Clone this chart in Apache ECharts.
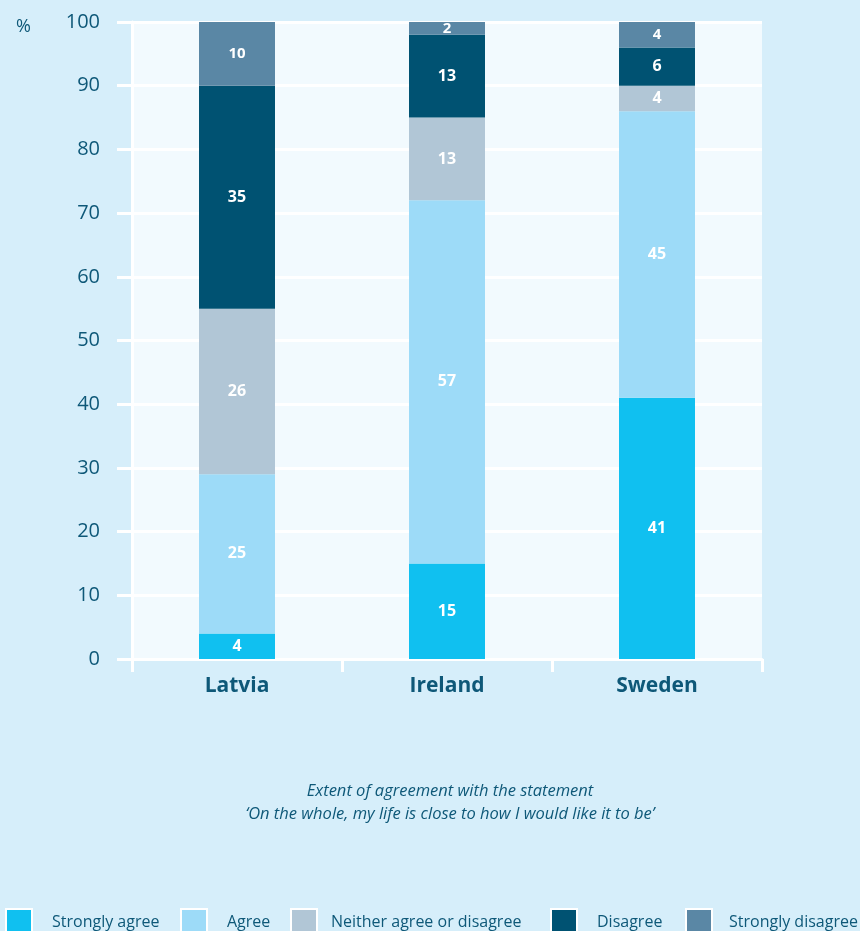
<!DOCTYPE html>
<html>
<head>
<meta charset="utf-8">
<script src="https://cdn.jsdelivr.net/npm/echarts@6/dist/echarts.min.js"></script>
<style>
  html, body { margin: 0; padding: 0; background: #d6eefa; }
  #chart { width: 860px; height: 931px; }
</style>
</head>
<body>
<div id="chart"></div>
<script>
const countries = ['Latvia', 'Ireland', 'Sweden']
const seriesNames = ['Strongly agree', 'Agree', 'Neither agree or disagree', 'Disagree', 'Strongly disagree']
const stronglyAgree = [4, 15, 41]
const agree = [25, 57, 45]
const neither = [26, 13, 4]
const disagree = [35, 13, 6]
const stronglyDisagree = [10, 2, 4]
const yTicks = [0, 10, 20, 30, 40, 50, 60, 70, 80, 90, 100]

const colors = ['#10c0f0', '#9ddbf8', '#b1c6d6', '#005272', '#5a87a5']
const textColor = '#0e5878'
const legendLeft = [5, 180, 290, 550, 685]
const legendTextPad = [15, 15, 9, 15, 12]

const chart = echarts.init(document.getElementById('chart'))

const values = [stronglyAgree, agree, neither, disagree, stronglyDisagree]

const option = {
  backgroundColor: '#d6eefa',
  animation: false,
  title: [
    {
      text: '%',
      left: 11,
      top: 13,
      textStyle: { color: textColor, fontSize: 18, fontWeight: 'normal', fontFamily: 'Open Sans' },
    },
    {
      text: 'Extent of agreement with the statement\n‘On the whole, my life is close to how I would like it to be’',
      left: 445,
      textAlign: 'center',
      top: 775,
      textStyle: {
        color: textColor,
        fontSize: 16.5,
        fontStyle: 'italic',
        fontWeight: 'normal',
        fontFamily: 'Open Sans',
        lineHeight: 23,
      },
    },
  ],
  legend: seriesNames.map((name, i) => ({
    data: [name],
    left: legendLeft[i],
    top: 908,
    padding: 0,
    icon: 'rect',
    itemWidth: 26,
    itemHeight: 26,
    itemStyle: { borderColor: '#ffffff', borderWidth: 2 },
    textStyle: {
      color: textColor,
      fontSize: 16,
      fontFamily: 'Open Sans',
      padding: [0, 0, 0, legendTextPad[i]],
    },
    selectedMode: false,
  })),
  grid: {
    left: 132,
    right: 98,
    top: 22,
    bottom: 272,
    show: true,
    backgroundColor: '#f2fafe',
    borderWidth: 0,
  },
  xAxis: {
    type: 'category',
    data: countries,
    axisLine: { lineStyle: { color: '#ffffff', width: 3 } },
    axisTick: { show: true, length: 13, lineStyle: { color: '#ffffff', width: 3 } },
    axisLabel: {
      color: textColor,
      fontSize: 21,
      fontWeight: 'bold',
      fontFamily: 'Open Sans',
      margin: 17,
    },
  },
  yAxis: {
    type: 'value',
    min: 0,
    max: 100,
    interval: 10,
    axisLine: { show: true, lineStyle: { color: '#ffffff', width: 3 } },
    axisTick: { show: true, length: 15, lineStyle: { color: '#ffffff', width: 3 } },
    splitLine: { show: true, lineStyle: { color: '#ffffff', width: 3 } },
    axisLabel: {
      color: textColor,
      fontSize: 20,
      fontFamily: 'Open Sans',
      margin: 32,
      formatter: (v) => (yTicks.includes(v) ? String(v) : ''),
    },
  },
  series: seriesNames.map((name, i) => ({
    name,
    type: 'bar',
    stack: 'total',
    barWidth: 76,
    data: values[i],
    itemStyle: { color: colors[i] },
    label: {
      show: true,
      position: 'inside',
      color: '#ffffff',
      fontSize: i === 4 ? 15 : 16,
      fontWeight: 'bold',
      fontFamily: 'Open Sans',
    },
  })),
}

chart.setOption(option)
</script>
</body>
</html>
